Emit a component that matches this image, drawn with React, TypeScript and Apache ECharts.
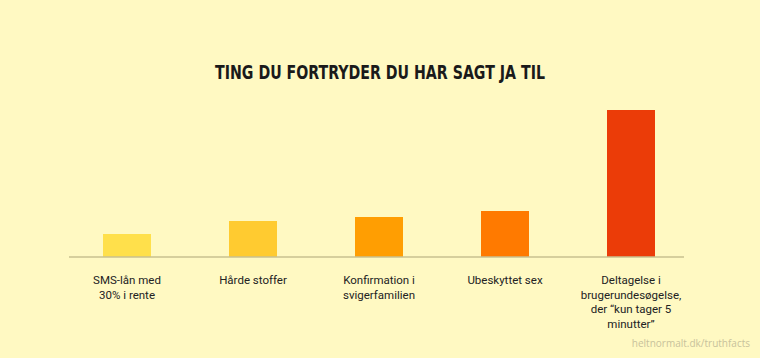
import React, { useEffect, useRef } from "react";
import * as echarts from "echarts";

const categories = [
  "SMS-lån med\n30% i rente",
  "Hårde stoffer",
  "Konfirmation i\nsvigerfamilien",
  "Ubeskyttet sex",
  "Deltagelse i\nbrugerundesøgelse,\nder \u201ckun tager 5\nminutter\u201d",
];
const values = [23, 36, 40, 46, 147];
const barColors = ["#FFE04B", "#FFCB30", "#FF9E02", "#FF7A00", "#EB3C08"];
const title = "TING DU FORTRYDER DU HAR SAGT JA TIL";
const credit = "heltnormalt.dk/truthfacts";

export default function App() {
  const ref = useRef<HTMLDivElement>(null);
  useEffect(() => {
    if (!ref.current) return;
    const chart = echarts.init(ref.current, null, { renderer: "svg" });
    chart.setOption({
      animation: false,
      backgroundColor: "#FFF9C2",
      grid: { left: 64, right: 66, top: 107, bottom: 101 },
      xAxis: {
        type: "category",
        data: categories,
        axisLine: { show: false },
        axisTick: { show: false },
        axisLabel: {
          margin: 16,
          interval: 0,
          fontFamily: "Roboto",
          fontSize: 11.5,
          lineHeight: 14.5,
          color: "#222222",
          verticalAlign: "top",
        },
      },
      yAxis: {
        type: "value",
        min: 0,
        max: 150,
        show: false,
        splitLine: { show: false },
      },
      series: [
        {
          type: "bar",
          barWidth: 48,
          data: values.map((v, i) => ({ value: v, itemStyle: { color: barColors[i] } })),
        },
      ],
      graphic: [
        {
          type: "text",
          x: 380,
          y: 72,
          scaleX: 0.83,
          style: {
            text: title,
            fontFamily: "DejaVu Sans Condensed",
            fontWeight: "bold",
            fontSize: 19,
            fill: "#1A1A1A",
            textAlign: "center",
            textVerticalAlign: "middle",
          },
        },
        {
          type: "line",
          shape: { x1: 69, y1: 257, x2: 684, y2: 257 },
          style: { stroke: "#C9C08F", lineWidth: 1.5 },
          z: 10,
        },
        {
          type: "text",
          right: 10,
          top: 338,
          style: {
            text: credit,
            fontFamily: "Open Sans",
            fontSize: 10,
            fill: "#C8C29C",
          },
        },
      ],
    });
    return () => chart.dispose();
  }, []);
  return (
    <div
      ref={ref}
      style={{ position: "fixed", left: 0, top: 0, width: 760, height: 358 }}
    />
  );
}
